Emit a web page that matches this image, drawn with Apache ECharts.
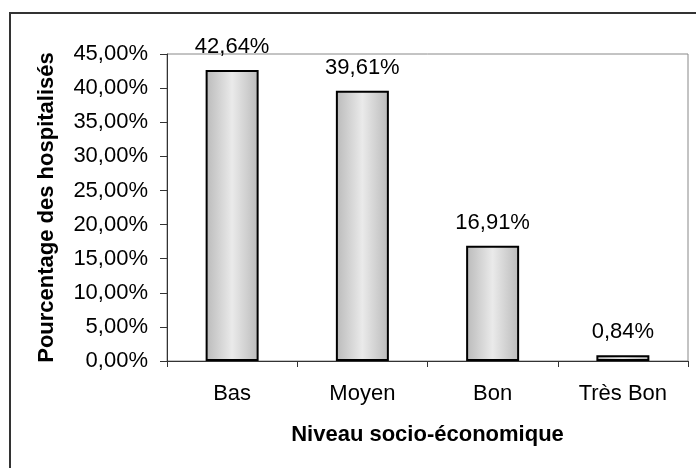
<!DOCTYPE html>
<html>
<head>
<meta charset="utf-8">
<script src="https://cdn.jsdelivr.net/npm/echarts@6/dist/echarts.min.js"></script>
<style>
  html, body { margin: 0; padding: 0; background: #fff; }
  #chart { width: 696px; height: 468px; }
</style>
</head>
<body>
<div id="chart"></div>
<script>
  // niveaux socio-économiques
  const categories = ['Bas', 'Moyen', 'Bon', 'Très Bon'];
  // pourcentage des hospitalisés
  const values = [42.64, 39.61, 16.91, 0.84];
  const yTicks = { min: 0, max: 45, step: 5 };

  const fmt = v => v.toFixed(2).replace('.', ',') + '%';
  const font = 'Liberation Sans, Arial, sans-serif';

  const chart = echarts.init(document.getElementById('chart'), null, { renderer: 'canvas' });

  chart.setOption({
    backgroundColor: '#fff',
    animation: false,
    graphic: [{
      type: 'rect',
      shape: { x: 10, y: 13, width: 700, height: 500 },
      style: { fill: 'none', stroke: '#333', lineWidth: 2 },
      silent: true
    }],
    grid: {
      left: 167, top: 54, right: 8, bottom: 107,
      show: true, borderColor: '#888', borderWidth: 1
    },
    xAxis: {
      type: 'category',
      data: categories,
      name: 'Niveau socio-économique',
      nameLocation: 'middle',
      nameGap: 63,
      nameTextStyle: { fontFamily: font, fontSize: 22, fontWeight: 'bold', color: '#000' },
      axisLine: { lineStyle: { color: '#333', width: 1 } },
      axisTick: { show: true, length: 6, lineStyle: { color: '#333' } },
      axisLabel: { margin: 22, fontFamily: font, fontSize: 22, color: '#000' }
    },
    yAxis: {
      type: 'value',
      min: yTicks.min, max: yTicks.max, interval: yTicks.step,
      name: 'Pourcentage des hospitalisés',
      nameLocation: 'middle',
      nameGap: 109,
      nameTextStyle: { fontFamily: font, fontSize: 22, fontWeight: 'bold', color: '#000' },
      axisLine: { show: true, lineStyle: { color: '#333', width: 1 } },
      axisTick: { show: true, length: 7, lineStyle: { color: '#333' } },
      splitLine: { show: false },
      axisLabel: { margin: 19, fontFamily: font, fontSize: 22, color: '#000', formatter: fmt }
    },
    series: [{
      type: 'bar',
      data: values,
      barWidth: 53,
      itemStyle: {
        color: new echarts.graphic.LinearGradient(0, 0, 1, 0, [
          { offset: 0, color: '#bababa' },
          { offset: 0.5, color: '#eaeaea' },
          { offset: 1, color: '#bababa' }
        ]),
        borderColor: '#000',
        borderWidth: 2
      },
      label: {
        show: true,
        position: 'top',
        distance: 12,
        fontFamily: font,
        fontSize: 22,
        color: '#000',
        formatter: p => fmt(p.value)
      }
    }]
  });
</script>
</body>
</html>
